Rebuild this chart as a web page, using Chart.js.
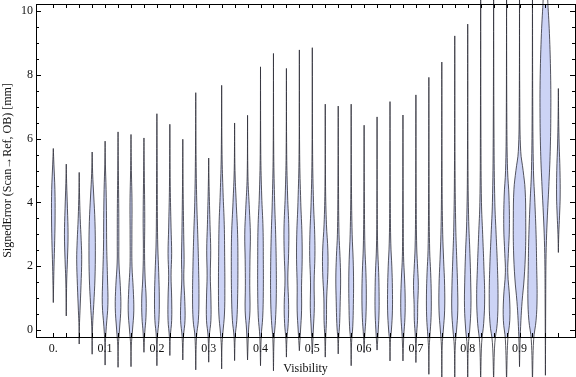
<!DOCTYPE html>
<html>
<head>
<meta charset="utf-8">
<script src="https://cdn.jsdelivr.net/npm/chart.js@4.4.1/dist/chart.umd.min.js"></script>
<style>
  html, body { margin: 0; padding: 0; background: #fff; }
  #caixa { width: 576px; height: 377px; }
</style>
</head>
<body>
<div id="caixa"><canvas id="graficoViolino"></canvas></div>
<script>
// categorias (Visibility) - um violino por valor
var visibility = [0, 0.025, 0.05, 0.075, 0.1, 0.125, 0.15, 0.175, 0.2, 0.225,
                  0.25, 0.275, 0.3, 0.325, 0.35, 0.375, 0.4, 0.425, 0.45, 0.475,
                  0.5, 0.525, 0.55, 0.575, 0.6, 0.625, 0.65, 0.675, 0.7, 0.725,
                  0.75, 0.775, 0.8, 0.825, 0.85, 0.875, 0.9, 0.925, 0.95, 0.975]

// extremos de cada violino (mm)
var erroMin = [0.86, 0.44, -0.44, -0.76, -1.10, -1.17, -1.15, -0.70, -1.12, -0.80,
               -0.94, -1.25, -1.01, -1.22, -0.96, -0.94, -1.12, -1.28, -0.85, -0.65,
               -0.75, -0.85, -0.75, -1.12, -0.71, -0.63, -0.97, -0.97, -1.02, -1.39,
               -1.50, -1.50, -1.50, -1.60, -1.60, -1.60, -1.15, -1.60, -1.42, 2.43]
var erroMax = [5.69, 5.20, 4.94, 5.58, 5.92, 6.21, 6.13, 6.02, 6.78, 6.45,
               5.98, 7.44, 5.39, 7.67, 6.49, 6.73, 8.25, 8.67, 8.20, 8.78,
               8.85, 7.08, 7.02, 7.08, 6.42, 6.68, 7.16, 6.74, 7.37, 7.92,
               8.40, 9.22, 9.59, 11.0, 11.0, 11.0, 11.0, 11.0, 12.5, 7.57]

// perfil de densidade de cada violino: [erro, densidade]
var densidades = [
  [[1.4,0.3],[2.0,0.7],[2.8,1.4],[3.6,1.8],[4.4,1.6],[5.2,0.6]],
  [[1.0,0.2],[1.6,0.5],[2.2,1.2],[3.0,1.8],[3.8,1.2],[4.6,0.4]],
  [[0.1,0.2],[0.6,0.8],[1.4,1.8],[2.2,2.5],[2.8,2.0],[3.5,1.0],[4.3,0.3]],
  [[0.1,0.4],[0.8,1.6],[1.6,2.8],[2.5,3.2],[3.4,2.8],[4.2,1.6],[4.9,0.5]],
  [[-0.4,0.3],[0.1,1.2],[0.8,2.8],[1.6,2.4],[2.6,1.6],[3.5,1.4],[4.4,1.0],[5.2,0.3]],
  [[-0.5,0.3],[0.0,1.4],[0.7,2.8],[1.4,2.2],[2.1,0.9],[2.8,0.8],[3.8,0.7],[5.0,0.3]],
  [[-0.5,0.3],[0.0,1.5],[0.6,2.8],[1.3,2.2],[2.0,1.0],[3.0,0.9],[4.0,1.0],[5.0,0.4]],
  [[-0.1,0.8],[0.4,2.0],[1.0,2.2],[1.6,1.2],[2.4,0.6],[3.5,0.8],[5.0,0.3]],
  [[-0.2,0.6],[0.3,2.0],[1.0,2.4],[1.8,1.8],[2.6,0.9],[3.5,0.5],[5.0,0.3]],
  [[-0.2,0.5],[0.3,1.8],[1.0,1.8],[1.7,1.2],[2.4,1.8],[3.2,1.2],[4.5,0.4]],
  [[-0.2,0.7],[0.3,2.2],[0.9,2.0],[1.6,1.0],[2.2,1.3],[3.0,0.9],[4.5,0.3]],
  [[-0.2,0.8],[0.3,2.6],[1.0,3.2],[2.0,2.8],[3.0,2.0],[4.0,1.0],[5.5,0.3]],
  [[-0.2,0.6],[0.3,2.2],[1.0,2.2],[1.7,1.6],[2.5,2.0],[3.3,1.3],[4.5,0.4]],
  [[-0.5,0.3],[-0.1,1.2],[0.5,2.8],[1.3,3.2],[2.3,3.0],[3.3,2.6],[4.3,1.4],[5.5,0.4]],
  [[-0.2,0.6],[0.3,2.2],[1.0,3.0],[2.0,3.3],[3.0,3.0],[4.0,1.6],[5.0,0.4]],
  [[0.0,1.0],[0.6,2.4],[1.4,2.2],[2.2,2.4],[3.0,2.8],[3.8,1.8],[4.8,0.4]],
  [[-0.2,0.7],[0.4,2.2],[1.2,2.8],[2.2,2.8],[3.2,2.5],[4.2,1.2],[5.5,0.3]],
  [[-0.3,0.6],[0.3,2.0],[1.0,2.8],[2.0,2.8],[3.0,2.2],[4.0,1.2],[5.5,0.3]],
  [[-0.3,0.5],[0.2,1.8],[0.8,2.2],[1.6,1.4],[2.4,2.2],[3.2,2.4],[4.2,1.2],[5.5,0.3]],
  [[0.0,1.2],[0.6,2.2],[1.4,2.2],[2.2,2.8],[3.0,2.6],[4.0,1.4],[5.5,0.3]],
  [[0.0,1.0],[0.7,2.0],[1.5,1.8],[2.3,2.6],[3.0,2.4],[4.0,1.2],[5.5,0.3]],
  [[-0.2,0.5],[0.3,1.2],[1.0,1.4],[1.8,2.6],[2.5,2.6],[3.3,1.2],[4.5,0.3]],
  [[-0.3,0.4],[0.2,1.4],[0.9,2.0],[1.6,2.4],[2.3,1.8],[3.0,0.8],[4.5,0.3]],
  [[-0.4,0.4],[0.1,1.6],[0.8,2.2],[1.5,2.4],[2.2,2.0],[3.0,1.0],[4.5,0.3]],
  [[-0.2,0.6],[0.4,1.8],[1.1,2.2],[1.8,1.8],[2.6,0.8],[4.0,0.3]],
  [[0.0,1.2],[0.6,2.0],[1.2,2.0],[1.8,1.6],[2.6,0.6],[4.0,0.2]],
  [[-0.4,0.3],[0.0,1.4],[0.6,2.4],[1.3,2.4],[2.0,1.8],[2.7,0.8],[4.0,0.3]],
  [[-0.2,0.8],[0.4,2.0],[1.0,2.2],[1.6,1.6],[2.3,0.6],[3.5,0.3]],
  [[-0.2,0.6],[0.3,1.6],[0.8,1.8],[1.4,2.4],[1.9,1.8],[2.6,0.8],[4.0,0.3]],
  [[-0.6,0.3],[-0.2,1.0],[0.4,2.2],[1.1,2.4],[1.8,1.8],[2.5,0.8],[4.0,0.3]],
  [[-0.5,0.4],[0.0,1.5],[0.6,2.8],[1.4,2.8],[2.2,1.8],[3.0,0.9],[4.5,0.3]],
  [[-0.5,0.5],[0.0,1.8],[0.6,3.0],[1.4,2.8],[2.2,2.0],[3.2,1.0],[5.0,0.3]],
  [[-0.5,0.6],[0.0,2.0],[0.7,3.2],[1.5,3.0],[2.4,2.2],[3.4,1.0],[5.0,0.3]],
  [[-0.4,1.0],[0.2,3.0],[1.0,4.0],[2.0,3.2],[3.0,2.0],[4.0,0.8],[6.0,0.3]],
  [[-0.4,1.2],[0.2,3.6],[1.0,4.4],[2.0,3.8],[3.0,2.5],[4.0,1.2],[6.0,0.4]],
  [[-0.3,1.2],[0.3,3.2],[1.0,3.0],[1.8,1.2],[2.4,1.8],[3.2,2.8],[4.2,2.4],[5.0,1.0],[6.5,0.3]],
  [[-0.4,0.5],[0.3,1.4],[0.9,2.6],[1.6,4.6],[2.5,6.0],[3.5,6.2],[4.4,5.6],[5.0,3.6],[5.6,1.2],[7.0,0.3]],
  [[-0.3,1.2],[0.3,3.6],[1.0,4.6],[2.0,4.2],[3.0,3.6],[4.0,2.4],[5.0,1.0],[7.0,0.3]],
  [[1.0,0.3],[2.0,0.5],[2.8,1.0],[3.6,2.0],[4.5,3.4],[5.6,4.8],[6.8,5.4],[8.0,5.2],[9.3,4.0],[10.4,2.2],[11.5,0.8]],
  [[3.0,0.4],[3.6,1.2],[4.2,1.8],[5.0,1.6],[5.8,0.8],[6.6,0.3]]
]

// rotulos dos eixos
var xRotulosValor = [0, 0.1, 0.2, 0.3, 0.4, 0.5, 0.6, 0.7, 0.8, 0.9]
var xRotulos = ['0.', '0.1', '0.2', '0.3', '0.4', '0.5', '0.6', '0.7', '0.8', '0.9']
var yRotulos = [0, 2, 4, 6, 8, 10]
var yMarcas = [0, 0.5, 1, 1.5, 2, 2.5, 3, 3.5, 4, 4.5, 5, 5.5, 6, 6.5, 7, 7.5, 8, 8.5, 9, 9.5, 10]

var DENS_PARA_X = 0.025 / 12.95  // uma unidade de densidade ~ 1px de meia largura
var fonteSerif = "'Liberation Serif', 'Times New Roman', serif"

// monta o contorno fechado de cada violino
var conjuntos = visibility.map(function (v, i) {
    var pontos = [{x: v, y: erroMin[i]}]
    densidades[i].forEach(function (p) { pontos.push({x: v + p[1] * DENS_PARA_X, y: p[0]}) })
    pontos.push({x: v, y: erroMax[i]}, {x: v, y: erroMax[i]})
    densidades[i].slice().reverse().forEach(function (p) { pontos.push({x: v - p[1] * DENS_PARA_X, y: p[0]}) })
    pontos.push({x: v, y: erroMin[i]})
    return {
        label: String(v),
        data: pontos,
        fill: 'shape',
        backgroundColor: '#ccd3f5',
        borderColor: 'rgba(45, 45, 55, 0.8)',
        borderWidth: 1,
        tension: 0.4,
        pointRadius: 0,
        pointHitRadius: 0,
        clip: false
    }
})

// marcas internas da moldura (estilo Mathematica)
var marcasMoldura = {
    id: 'marcasMoldura',
    afterDraw: function (chart) {
        var ctx = chart.ctx
        var area = chart.chartArea
        var sx = chart.scales.x
        var sy = chart.scales.y
        ctx.save()
        ctx.strokeStyle = '#000'
        ctx.lineWidth = 1
        ctx.beginPath()
        visibility.forEach(function (v) {
            var px = Math.round(sx.getPixelForValue(v)) + 0.5
            ctx.moveTo(px, area.bottom); ctx.lineTo(px, area.bottom - 4)
            ctx.moveTo(px, area.top); ctx.lineTo(px, area.top + 4)
        })
        yMarcas.forEach(function (v) {
            var py = Math.round(sy.getPixelForValue(v)) + 0.5
            var len = yRotulos.indexOf(v) >= 0 ? 5 : 3
            ctx.moveTo(area.left, py); ctx.lineTo(area.left + len, py)
            ctx.moveTo(area.right, py); ctx.lineTo(area.right - len, py)
        })
        ctx.stroke()
        ctx.restore()
    }
}

function semFolga(s) {
    s.paddingTop = 0; s.paddingBottom = 0; s.paddingLeft = 0; s.paddingRight = 0
}

var semGrade = {display: false, drawTicks: false}
var borda = {display: true, color: '#000', width: 1, z: 1}

var ctxViolino = document.getElementById('graficoViolino').getContext('2d')
var graficoViolino = new Chart(ctxViolino, {
    type: 'line',
    data: { datasets: conjuntos },
    plugins: [marcasMoldura],
    options: {
        responsive: true,
        maintainAspectRatio: false,
        animation: false,
        layout: { padding: { top: 4, right: 1, left: 0, bottom: 0 } },
        elements: { line: { capBezierPoints: false } },
        plugins: { legend: { display: false }, tooltip: { enabled: false } },
        scales: {
            x: {
                type: 'linear', position: 'bottom',
                min: -0.0334, max: 1.0071,
                grid: semGrade, border: borda,
                afterBuildTicks: function (s) { s.ticks = xRotulosValor.map(function (v) { return {value: v} }) },
                afterFit: function (s) { s.height = 40; semFolga(s) },
                ticks: {
                    autoSkip: false, maxRotation: 0, padding: 5, color: '#111',
                    font: { family: fonteSerif, size: 12 },
                    callback: function (v, i) { return xRotulos[i] }
                },
                title: {
                    display: true, text: 'Visibility', color: '#111',
                    font: { family: fonteSerif, size: 12 },
                    padding: { top: 0, bottom: 1 }
                }
            },
            xTopo: {
                type: 'linear', position: 'top', min: -0.0334, max: 1.0071,
                grid: semGrade, border: borda,
                ticks: { display: false },
                afterFit: function (s) { s.height = 0; semFolga(s) }
            },
            y: {
                type: 'linear', position: 'left',
                min: -0.22, max: 10.22,
                grid: semGrade, border: borda,
                afterBuildTicks: function (s) { s.ticks = yRotulos.map(function (v) { return {value: v} }) },
                afterFit: function (s) { s.width = 36; semFolga(s) },
                ticks: {
                    padding: 3, color: '#111',
                    font: { family: fonteSerif, size: 12 },
                    callback: function (v) { return String(v) }
                },
                title: {
                    display: true, text: 'SignedError (Scan\u2192Ref, OB) [mm]', color: '#111',
                    font: { family: fonteSerif, size: 12 },
                    padding: { top: 1, bottom: 0 }
                }
            },
            yDireita: {
                type: 'linear', position: 'right', min: -0.22, max: 10.22,
                grid: semGrade, border: borda,
                ticks: { display: false },
                afterFit: function (s) { s.width = 0; semFolga(s) }
            }
        }
    }
})
</script>
</body>
</html>
